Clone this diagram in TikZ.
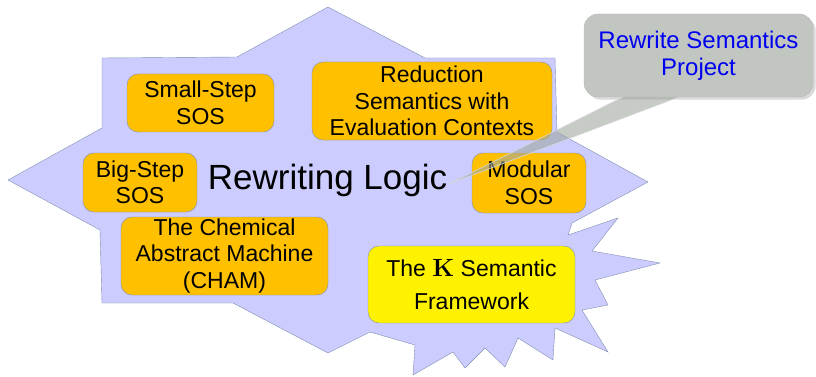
\documentclass[tikz,border=0pt]{standalone}
\usepackage[no-math]{fontspec}
\setmainfont{Liberation Sans}
\usetikzlibrary{shadows}

\definecolor{lavender}{RGB}{204,204,255}
\definecolor{edgeblue}{RGB}{128,144,176}
\definecolor{semorange}{RGB}{255,192,0}
\definecolor{calloutgray}{RGB}{160,168,160}
\definecolor{projblue}{RGB}{0,0,240}

\tikzset{
  semnode/.style={draw=edgeblue, fill=semorange, rounded corners=11pt, align=center,
    inner sep=0pt, font=\fontsize{23}{26.5}\selectfont},
  knode/.style={semnode, fill=yellow, font=\fontsize{23}{33}\selectfont},
}

\begin{document}
\begin{tikzpicture}[x=1pt, y=-1pt]
\useasboundingbox (0,0) rectangle (816,377);

% the rewriting logic area
\draw[draw=edgeblue, fill=lavender] (8,180) -- (102,128) -- (102,58) -- (237,57) -- (328,7)
  -- (425,58) -- (555,58) -- (557,132) -- (648,182) -- (572,223) -- (568,235) -- (618,218)
  -- (592,251) -- (660,263) -- (595,280) -- (608,305) -- (582,310) -- (608,352) -- (555,328)
  -- (553,360) -- (518,338) -- (505,367) -- (485,348) -- (465,368) -- (453,352) -- (413,375)
  -- (415,345) -- (370,332) -- (328,353) -- (233,303) -- (102,303) -- (100,230) -- cycle;

\node[semnode, minimum width=147pt, minimum height=58pt] (smallstep) at (200.5,103) {Small-Step\\SOS};
\node[semnode, minimum width=240pt, minimum height=78pt] (reduction) at (432,101) {Reduction\\Semantics with\\Evaluation Contexts};
\node[semnode, minimum width=114pt, minimum height=59pt] (bigstep) at (140,182.5) {Big-Step\\SOS};
\node[semnode, minimum width=114pt, minimum height=60pt] (modular) at (529,183) {Modular\\SOS};
\node[semnode, minimum width=207pt, minimum height=78pt] (cham) at (224.5,256) {The Chemical\\Abstract Machine\\(CHAM)};
\node[knode, minimum width=207pt, minimum height=77pt] (kframe) at (471.5,284.5) {The $\mathbf{K}$ Semantic\\Framework};

\node[font=\fontsize{35}{40}\selectfont, inner sep=0pt] (rwlogic) at (327.5,180) {Rewriting Logic};

% callout
\coordinate (tip) at (449,184);
\node[draw=calloutgray!80!white, fill=calloutgray!65!white, rounded corners=14pt, drop shadow={opacity=0.3},
  minimum width=229pt, minimum height=83pt, inner sep=0pt, align=center, text=projblue,
  font=\fontsize{24}{27}\selectfont] (project) at (698.5,55.5) {Rewrite Semantics\\Project};
\fill[calloutgray, fill opacity=0.6] ([xshift=-76pt]project.south) -- (tip) -- ([xshift=-20pt]project.south) -- cycle;
\draw[white!70!gray, line width=0.6pt] ([xshift=-76pt]project.south) -- (tip) -- ([xshift=-20pt]project.south);
\end{tikzpicture}
\end{document}
